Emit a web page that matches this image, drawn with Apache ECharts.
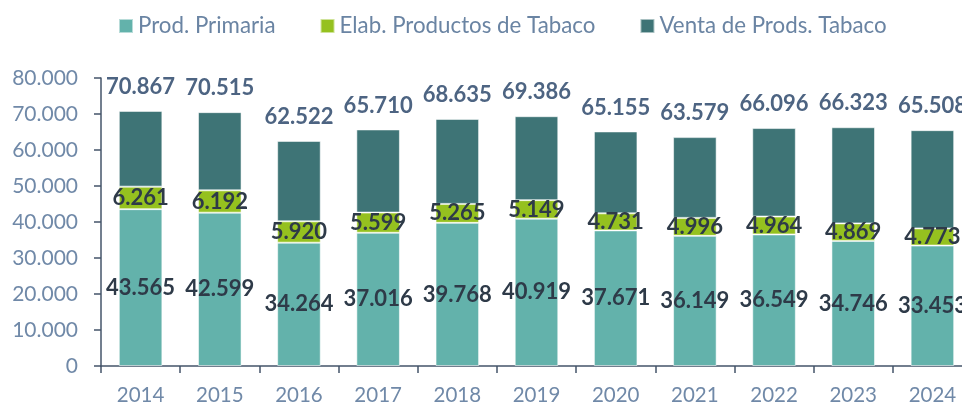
<!DOCTYPE html>
<html>
<head>
<meta charset="utf-8">
<script src="https://cdn.jsdelivr.net/npm/echarts@6/dist/echarts.min.js"></script>
<style>
  html, body { margin: 0; padding: 0; background: #fff; }
  #chart { width: 962px; height: 405px; }
</style>
</head>
<body>
<div id="chart"></div>
<script>
const years = ['2014', '2015', '2016', '2017', '2018', '2019', '2020', '2021', '2022', '2023', '2024']
const prodPrimaria = [43565, 42599, 34264, 37016, 39768, 40919, 37671, 36149, 36549, 34746, 33453]
const elabTabaco = [6261, 6192, 5920, 5599, 5265, 5149, 4731, 4996, 4964, 4869, 4773]
const ventaTabaco = [21041, 21724, 22338, 23095, 23602, 23318, 22753, 22434, 24583, 26708, 27282]
const totals = [70867, 70515, 62522, 65710, 68635, 69386, 65155, 63579, 66096, 66323, 65508]

const FONT = 'Lato'

// 70867 -> "70.867"
function fmt(v) {
  return String(v).replace(/\B(?=(\d{3})+(?!\d))/g, '.')
}

const chart = echarts.init(document.getElementById('chart'))

const innerLabel = {
  show: true,
  position: 'inside',
  fontFamily: FONT,
  fontSize: 22,
  fontWeight: 'bold',
  color: '#2e3a48',
  formatter: p => fmt(p.value)
}

const barBorder = { borderColor: 'rgba(255,255,255,0.55)', borderWidth: 1 }

chart.setOption({
  animation: false,
  textStyle: { fontFamily: FONT },
  legend: {
    top: 15,
    left: 118,
    padding: 0,
    itemWidth: 14,
    itemHeight: 14,
    itemGap: 44,
    icon: 'rect',
    textStyle: { fontFamily: FONT, fontSize: 22.3, color: '#6a84a3' },
    data: ['Prod. Primaria', 'Elab. Productos de Tabaco', 'Venta de Prods. Tabaco']
  },
  grid: { left: 101, width: 871, top: 78, bottom: 39, outerBoundsMode: 'none' },
  xAxis: {
    type: 'category',
    data: years,
    axisLine: { lineStyle: { color: '#44546a', width: 1.5 } },
    axisTick: { show: true, length: 7, lineStyle: { color: '#44546a', width: 1.5 } },
    axisLabel: { fontFamily: FONT, fontSize: 20.5, color: '#7089a8', margin: 19 }
  },
  yAxis: {
    type: 'value',
    min: 0,
    max: 80000,
    interval: 10000,
    splitLine: { show: false },
    axisLine: { show: true, lineStyle: { color: '#44546a', width: 1.5 } },
    axisTick: { show: true, length: 7, lineStyle: { color: '#44546a', width: 1.5 } },
    axisLabel: { fontFamily: FONT, fontSize: 21, color: '#7089a8', margin: 23, formatter: v => fmt(v) }
  },
  series: [
    {
      name: 'Prod. Primaria',
      type: 'bar',
      stack: 'total',
      barWidth: '55%',
      data: prodPrimaria,
      itemStyle: Object.assign({ color: '#63b2ab' }, barBorder),
      label: innerLabel
    },
    {
      name: 'Elab. Productos de Tabaco',
      type: 'bar',
      stack: 'total',
      data: elabTabaco,
      itemStyle: Object.assign({ color: '#95c11f' }, barBorder),
      label: innerLabel
    },
    {
      name: 'Venta de Prods. Tabaco',
      type: 'bar',
      stack: 'total',
      data: ventaTabaco,
      itemStyle: Object.assign({ color: '#3e7476' }, barBorder),
      label: {
        show: true,
        position: 'top',
        distance: 13,
        fontFamily: FONT,
        fontSize: 22,
        fontWeight: 'bold',
        color: '#4d6482',
        formatter: p => fmt(totals[p.dataIndex])
      }
    }
  ]
})
</script>
</body>
</html>
